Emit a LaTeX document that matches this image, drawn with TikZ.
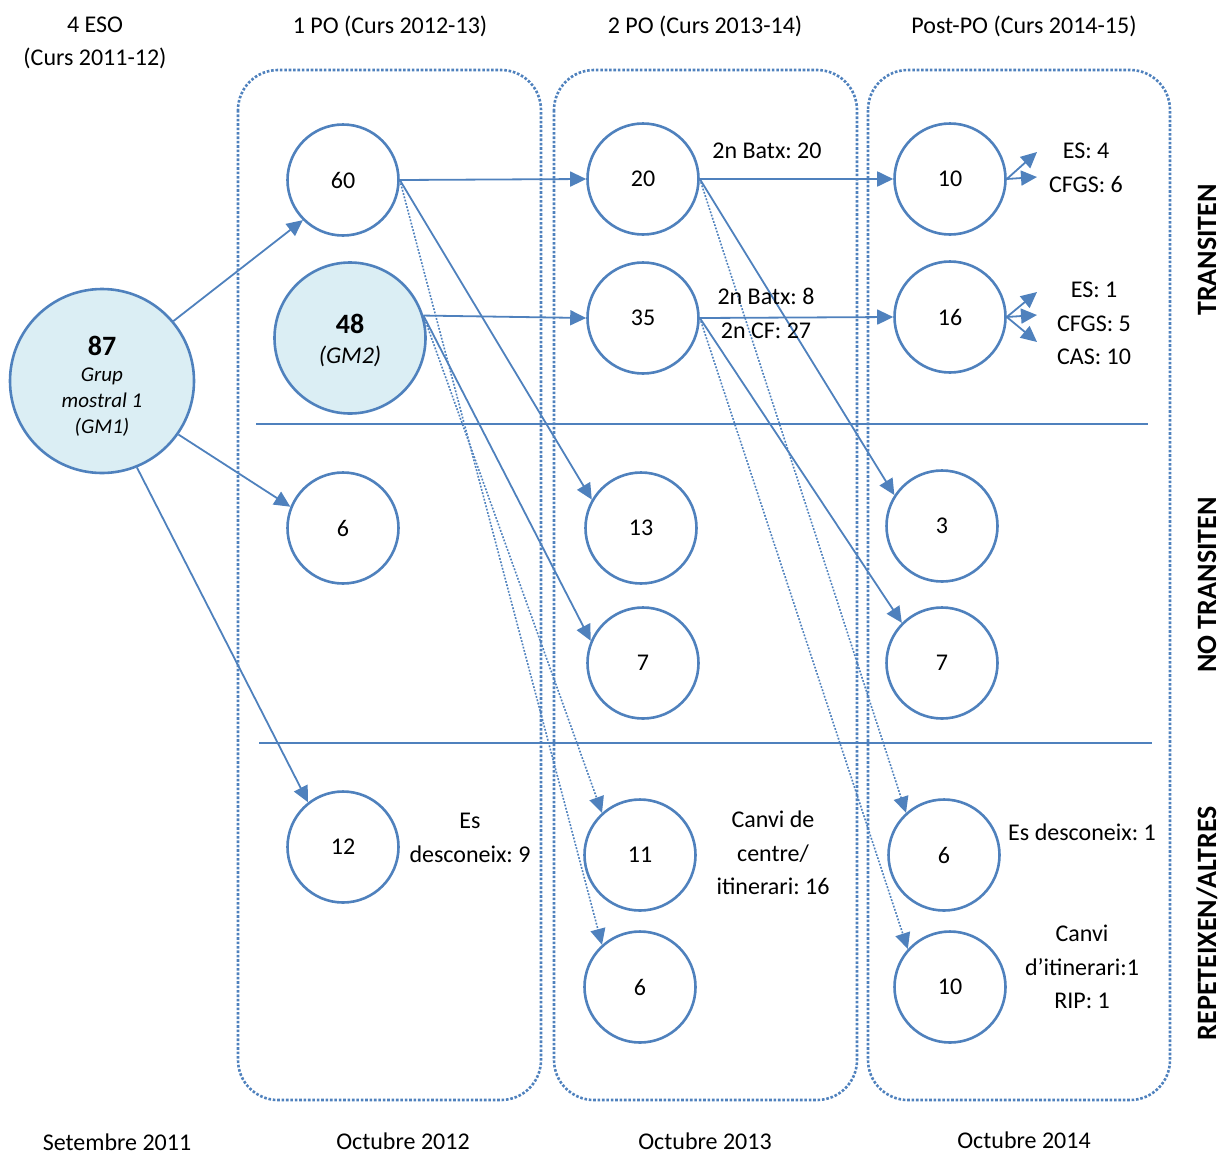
\documentclass[tikz,border=0pt]{standalone}
\usepackage{fontspec}
\setmainfont{Carlito}
\usetikzlibrary{arrows.meta}
\definecolor{ofblue}{HTML}{4F81BD}
\definecolor{gmfill}{HTML}{DBEEF4}
\tikzset{
  circ/.style={circle, draw=ofblue, line width=2.6pt, fill=white, minimum size=111pt, inner sep=0pt,
     font=\fontsize{24}{28}\selectfont},
  bigcirc/.style={circ, fill=gmfill},
  panel/.style={draw=ofblue, line width=2.6pt, dash pattern=on 2.6pt off 1.8pt, rounded corners=40pt},
  sep/.style={draw=ofblue, line width=2.2pt},
  arr/.style={draw=ofblue, line width=1.8pt, -{Triangle[length=16pt,width=15pt]}},
  darr/.style={arr, line width=1.6pt, dash pattern=on 1.8pt off 1.6pt},
  txt/.style={font=\fontsize{24}{33.5}\selectfont, align=center, inner sep=0pt},
  side/.style={font=\fontsize{28}{30}\selectfont\bfseries, rotate=90, inner sep=0pt},
}
\begin{document}
\frenchspacing
\begin{tikzpicture}[x=1pt,y=-1pt]
\useasboundingbox (0,0) rectangle (1222,1154);
% panels
\draw[panel] (238,70) rectangle (541,1100);
\draw[panel] (554,70) rectangle (857,1100);
\draw[panel] (868,70) rectangle (1170,1100);
% separators
\draw[sep] (256,424) -- (1148,424);
\draw[sep] (259,743) -- (1152,743);
% circles
\node[bigcirc, minimum size=184pt] (gm1) at (102,381) {};
\node[circ] (n60) at (343,180) {60};
\node[bigcirc, minimum size=151pt] (n48) at (350,338) {};
\node[circ] (n6a) at (343,528) {6};
\node[circ] (n12) at (343,847) {12};
\node[circ] (n20) at (643,179) {20};
\node[circ] (n35) at (643,318) {35};
\node[circ] (n13) at (641,528) {13};
\node[circ] (n7b) at (643,663) {7};
\node[circ] (n11) at (640,855) {11};
\node[circ] (n6b) at (640,987) {6};
\node[circ] (n10c) at (950,179) {10};
\node[circ] (n16) at (950,317) {16};
\node[circ] (n3) at (942,526) {3};
\node[circ] (n7c) at (942,663) {7};
\node[circ] (n6c) at (944,855) {6};
\node[circ] (n10d) at (950,987) {10};
% texts inside big circles
\node[font=\fontsize{28}{30}\selectfont\bfseries, inner sep=0pt] (gm1a) at (102,346) {87};
\node[font=\fontsize{21}{26}\selectfont\itshape, align=center, inner sep=0pt] (gm1b) at (102,402) {Grup\\mostral 1\\(GM1)};
\node[font=\fontsize{28}{30}\selectfont\bfseries, inner sep=0pt] (gm2a) at (350,324) {48};
\node[font=\fontsize{24}{28}\selectfont\itshape, inner sep=0pt] (gm2b) at (350,356) {(GM2)};
% arrows
\draw[arr] (gm1.40) -- (n60.225);
\draw[arr] (gm1.-35) -- (n6a.158);
\draw[arr] (gm1.-68) -- (n12.128);
\draw[arr] (n60.east) -- (n20.west);
\draw[arr] (n60.east) -- (n13.150);
\draw[darr] (n60.east) -- (n6b.132);
\draw[arr] (n48.17) -- (n35.west);
\draw[arr] (n48.17) -- (n7b.157);
\draw[darr] (n48.17) -- (n11.132);
\draw[arr] (n20.east) -- (n10c.west);
\draw[arr] (n20.east) -- (n3.147);
\draw[darr] (n20.east) -- (n6c.132);
\draw[arr] (n35.east) -- (n16.west);
\draw[arr] (n35.east) -- (n7c.135);
\draw[darr] (n35.east) -- (n10d.138);
% small outgoing arrows
\coordinate (o1) at (1037,152);
\coordinate (o2) at (1037,177);
\coordinate (o3) at (1037,292);
\coordinate (o4) at (1037,315);
\coordinate (o5) at (1037,342);
\draw[arr] (n10c.east) -- (o1);
\draw[arr] (n10c.east) -- (o2);
\draw[arr] (n16.east) -- (o3);
\draw[arr] (n16.east) -- (o4);
\draw[arr] (n16.east) -- (o5);
% headers
\node[txt] (h1) at (95,43) {4 ESO\\(Curs 2011-12)};
\node[txt] (h2) at (390,26) {1 PO (Curs 2012-13)};
\node[txt] (h3) at (705,26) {2 PO (Curs 2013-14)};
\node[txt] (h4) at (1024,26) {Post-PO (Curs 2014-15)};
% labels
\node[txt] (l1) at (767,151) {2n Batx: 20};
\node[txt] (l2) at (766,313.5) {2n Batx: 8\\2n CF: 27};
\node[txt] (l3) at (1086,168) {ES: 4\\CFGS: 6};
\node[txt] (l4) at (1094,323.5) {ES: 1\\CFGS: 5\\CAS: 10};
\node[txt] (l5) at (470,838) {Es\\desconeix: 9};
\node[txt] (l6) at (773,853) {Canvi de\\centre/\\itinerari: 16};
\node[txt] (l7) at (1082,832) {Es desconeix: 1};
\node[txt] (l8) at (1082,967) {Canvi\\d’itinerari:1\\RIP: 1};
% bottom
\node[txt] (b1) at (117,1142) {Setembre 2011};
\node[txt] (b2) at (403,1141) {Octubre 2012};
\node[txt] (b3) at (705,1141) {Octubre 2013};
\node[txt] (b4) at (1024,1140) {Octubre 2014};
% side
\node[side] (s1) at (1207,250) {TRANSITEN};
\node[side] (s2) at (1207,585) {NO TRANSITEN};
\node[side] (s3) at (1207,923) {REPETEIXEN/ALTRES};
\end{tikzpicture}
\end{document}
